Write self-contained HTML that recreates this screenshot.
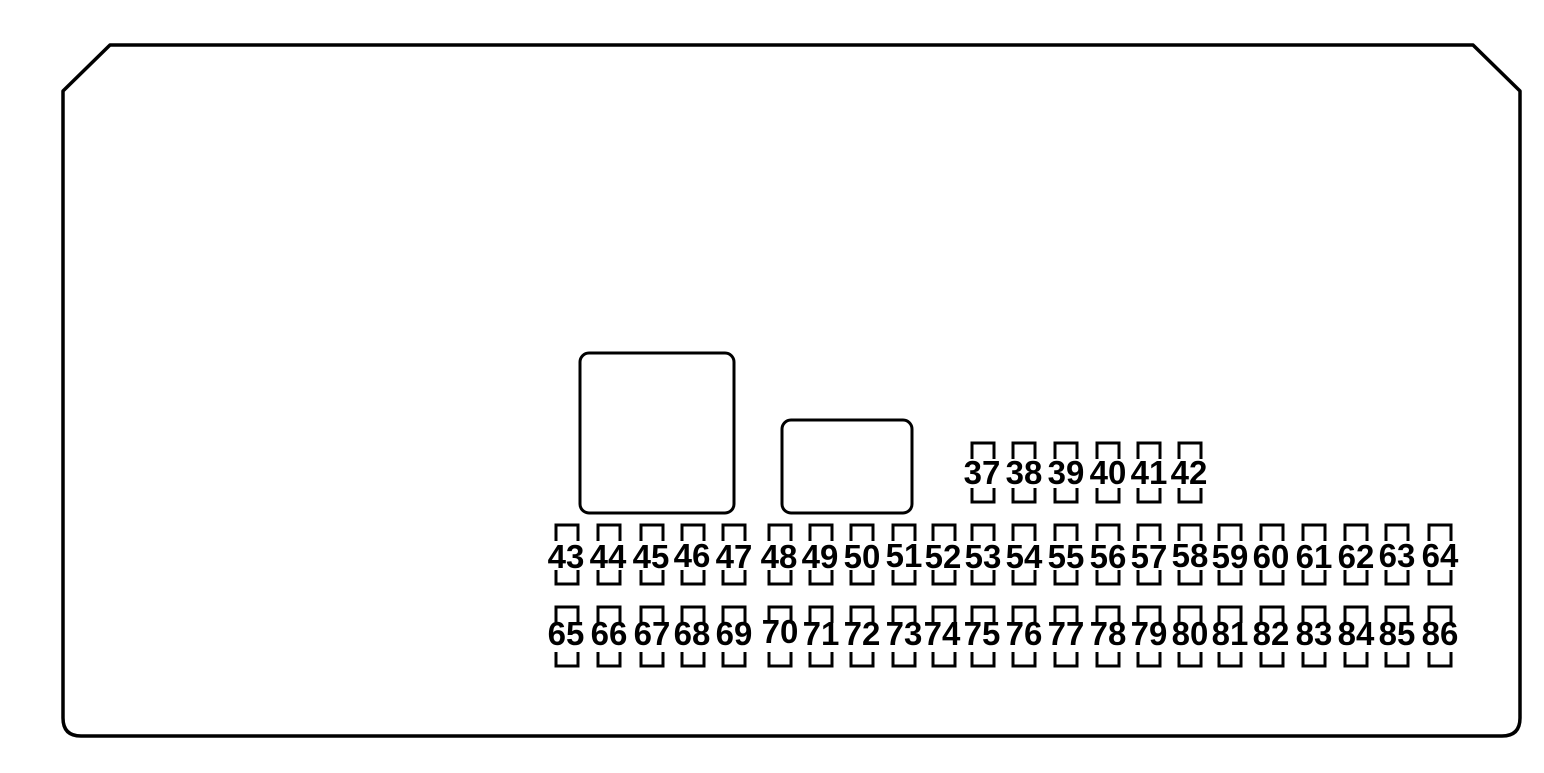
<!DOCTYPE html>
<html><head><meta charset="utf-8"><style>
html,body{margin:0;padding:0;background:#fff}
svg{display:block}
text{font-family:"Liberation Sans",Arial,sans-serif;font-weight:bold;font-size:33px;text-anchor:middle;fill:#000}
</style></head><body>
<svg width="1544" height="773" viewBox="0 0 1544 773" xmlns="http://www.w3.org/2000/svg">
<path d="M63,91 L110,45 L1473,45 L1520,91 L1520,718 Q1520,736 1502,736 L81,736 Q63,736 63,718 Z" fill="none" stroke="#000" stroke-width="3.5" stroke-linejoin="round"/>
<rect x="580" y="353" width="154" height="160" rx="9" fill="none" stroke="#000" stroke-width="3"/>
<rect x="782" y="420" width="130" height="93" rx="9" fill="none" stroke="#000" stroke-width="3"/>
<defs>
<g id="f"><rect x="-11" y="0" width="22" height="59" fill="none" stroke="#000" stroke-width="3"/><rect x="-14" y="16" width="28" height="29" fill="#fff"/></g>
</defs>
<g>
<use href="#f" x="983" y="443"/><use href="#f" x="1024" y="443"/><use href="#f" x="1066" y="443"/><use href="#f" x="1108" y="443"/><use href="#f" x="1149" y="443"/><use href="#f" x="1190" y="443"/>
<text x="982" y="484">37</text><text x="1024" y="484">38</text><text x="1066" y="484">39</text><text x="1108" y="484">40</text><text x="1149" y="484">41</text><text x="1189" y="484">42</text>
</g>
<g>
<use href="#f" x="567" y="525"/><use href="#f" x="609" y="525"/><use href="#f" x="652" y="525"/><use href="#f" x="693" y="525"/><use href="#f" x="734" y="525"/><use href="#f" x="780" y="525"/><use href="#f" x="821" y="525"/><use href="#f" x="862" y="525"/><use href="#f" x="904" y="525"/><use href="#f" x="944" y="525"/><use href="#f" x="983" y="525"/><use href="#f" x="1024" y="525"/><use href="#f" x="1066" y="525"/><use href="#f" x="1108" y="525"/><use href="#f" x="1149" y="525"/><use href="#f" x="1190" y="525"/><use href="#f" x="1230" y="525"/><use href="#f" x="1272" y="525"/><use href="#f" x="1314" y="525"/><use href="#f" x="1356" y="525"/><use href="#f" x="1397" y="525"/><use href="#f" x="1440" y="525"/>
<text x="566" y="568">43</text><text x="608" y="568">44</text><text x="651" y="568">45</text><text x="692" y="567">46</text><text x="734" y="568">47</text><text x="779" y="568">48</text><text x="820" y="568">49</text><text x="862" y="568">50</text><text x="904" y="567">51</text><text x="943" y="568">52</text><text x="983" y="568">53</text><text x="1024" y="568">54</text><text x="1066" y="568">55</text><text x="1108" y="568">56</text><text x="1149" y="568">57</text><text x="1190" y="567">58</text><text x="1230" y="568">59</text><text x="1271" y="568">60</text><text x="1314" y="568">61</text><text x="1356" y="568">62</text><text x="1397" y="567">63</text><text x="1440" y="567">64</text>
</g>
<g>
<use href="#f" x="567" y="607"/><use href="#f" x="609" y="607"/><use href="#f" x="652" y="607"/><use href="#f" x="693" y="607"/><use href="#f" x="734" y="607"/><use href="#f" x="780" y="607"/><use href="#f" x="821" y="607"/><use href="#f" x="862" y="607"/><use href="#f" x="904" y="607"/><use href="#f" x="944" y="607"/><use href="#f" x="983" y="607"/><use href="#f" x="1024" y="607"/><use href="#f" x="1066" y="607"/><use href="#f" x="1108" y="607"/><use href="#f" x="1149" y="607"/><use href="#f" x="1190" y="607"/><use href="#f" x="1230" y="607"/><use href="#f" x="1272" y="607"/><use href="#f" x="1314" y="607"/><use href="#f" x="1356" y="607"/><use href="#f" x="1397" y="607"/><use href="#f" x="1440" y="607"/>
<text x="566" y="645">65</text><text x="609" y="645">66</text><text x="652" y="645">67</text><text x="692" y="645">68</text><text x="734" y="645">69</text><text x="780" y="643">70</text><text x="821" y="645">71</text><text x="862" y="645">72</text><text x="904" y="645">73</text><text x="942" y="645">74</text><text x="982" y="645">75</text><text x="1024" y="645">76</text><text x="1066" y="645">77</text><text x="1108" y="645">78</text><text x="1149" y="645">79</text><text x="1190" y="645">80</text><text x="1230" y="645">81</text><text x="1271" y="645">82</text><text x="1314" y="645">83</text><text x="1356" y="645">84</text><text x="1397" y="645">85</text><text x="1440" y="645">86</text>
</g>
</svg>
</body></html>
